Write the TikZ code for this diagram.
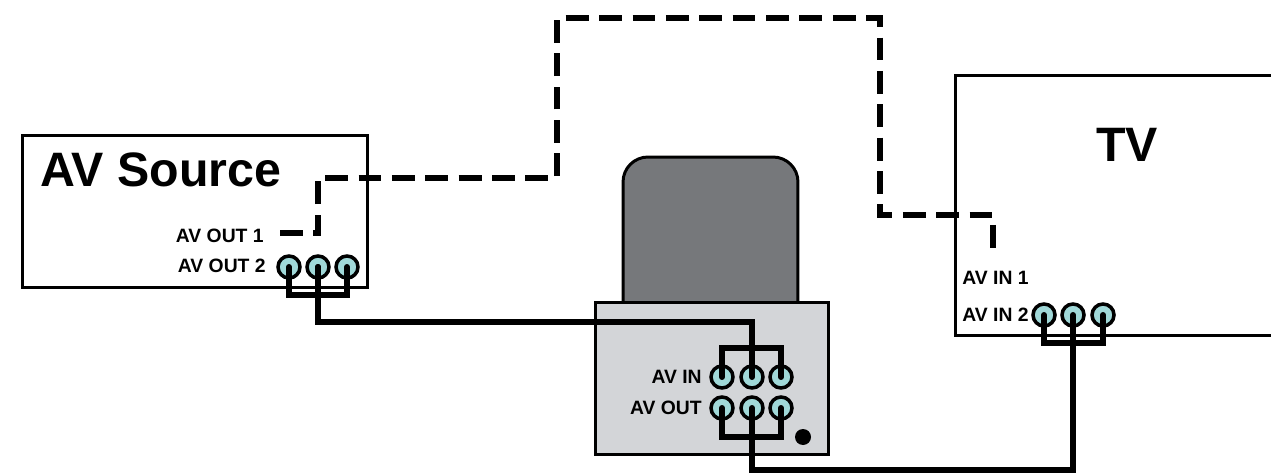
\documentclass[tikz,border=0pt]{standalone}
\usepackage{fontspec}
\setmainfont{Liberation Sans}
\usetikzlibrary{positioning}
\definecolor{jackcyan}{RGB}{160,216,216}
\definecolor{vcrdark}{RGB}{118,120,123}
\definecolor{vcrlight}{RGB}{211,213,216}

\begin{document}
\begin{tikzpicture}[x=0.02cm, y=-0.02cm, every node/.style={font=\bfseries\fontsize{11}{13}\selectfont},
  unit/.style={rectangle,draw,line width=1.7pt,inner sep=0pt},
  jack/.style={circle,draw,line width=2pt,fill=jackcyan,minimum size=0.44cm,inner sep=0pt},
  wire/.style={line width=3.4pt,line cap=round},
  link/.style={line width=3.4pt,dash pattern=on 13pt off 6pt},
  tag/.style={inner sep=0pt},
  bigtag/.style={inner sep=0pt,font=\bfseries\fontsize{27.5}{31}\selectfont}]
\useasboundingbox (0,0) rectangle (1271,476);
% boxes
\node[unit,fill=white,minimum width=6.92cm,minimum height=3.06cm] (source) at (195,211.5) {};
\node[unit,fill=white,minimum width=6.6cm,minimum height=5.22cm] (tv) at (1120,205.5) {};
\node[unit,fill=vcrdark,rounded corners=0.5cm,minimum width=3.5cm,minimum height=3.46cm] (vcrtop) at (710.5,243.5) {};
\node[unit,fill=vcrlight,minimum width=4.68cm,minimum height=3.06cm] (vcr) at (712,378.5) {};
\node[circle,fill=black,minimum size=0.32cm,inner sep=0pt] (vcrdot) at (803,437) {};
% texts
\node[bigtag,anchor=base west] (srcname) at (40,187) {AV Source};
\node[bigtag,anchor=base] (tvname) at (1127,162) {TV};
\node[tag,anchor=east] (srcout1) at (264,236) {AV OUT 1};
\node[tag,anchor=east] (srcout2) at (266,266) {AV OUT 2};
\node[tag,anchor=west] (tvin1) at (962,278) {AV IN 1};
\node[tag,anchor=west] (tvin2) at (962,315) {AV IN 2};
\node[tag,anchor=east] (vcrin) at (702,377) {AV IN};
\node[tag,anchor=east] (vcrout) at (702,408) {AV OUT};
% jacks
\node[jack] (sj1) at (289,267) {};
\node[jack] (sj2) at (318,267) {};
\node[jack] (sj3) at (347,267) {};
\node[jack] (vi1) at (722,377) {};
\node[jack] (vi2) at (752,377) {};
\node[jack] (vi3) at (781,377) {};
\node[jack] (vo1) at (722,408) {};
\node[jack] (vo2) at (752,408) {};
\node[jack] (vo3) at (781,408) {};
\node[jack] (tj1) at (1044,315) {};
\node[jack] (tj2) at (1073,315) {};
\node[jack] (tj3) at (1103,315) {};
% dashed link
\coordinate (link1) at (280,233);
\coordinate (link2) at (993,258);
\draw[link] (link1) -| (318,178) -| (557,18) -| (880,215) -| (link2);
% wires
\draw[wire] (sj1.center) -- ++(0,28) -| (sj3.center);
\draw[wire] (sj2.center) -- ++(0,28);
\draw[wire] (vi1.center) -- ++(0,-29) -| (vi3.center);
\draw[wire] (vo1.center) -- ++(0,29) -| (vo3.center);
\draw[wire] (tj1.center) -- ++(0,28) -| (tj3.center);
\draw[wire] (sj2.center) -- ++(0,55) -| (vi2.center);
\draw[wire] (vo2.center) -- ++(0,62) -| (tj2.center);
\end{tikzpicture}
\end{document}
